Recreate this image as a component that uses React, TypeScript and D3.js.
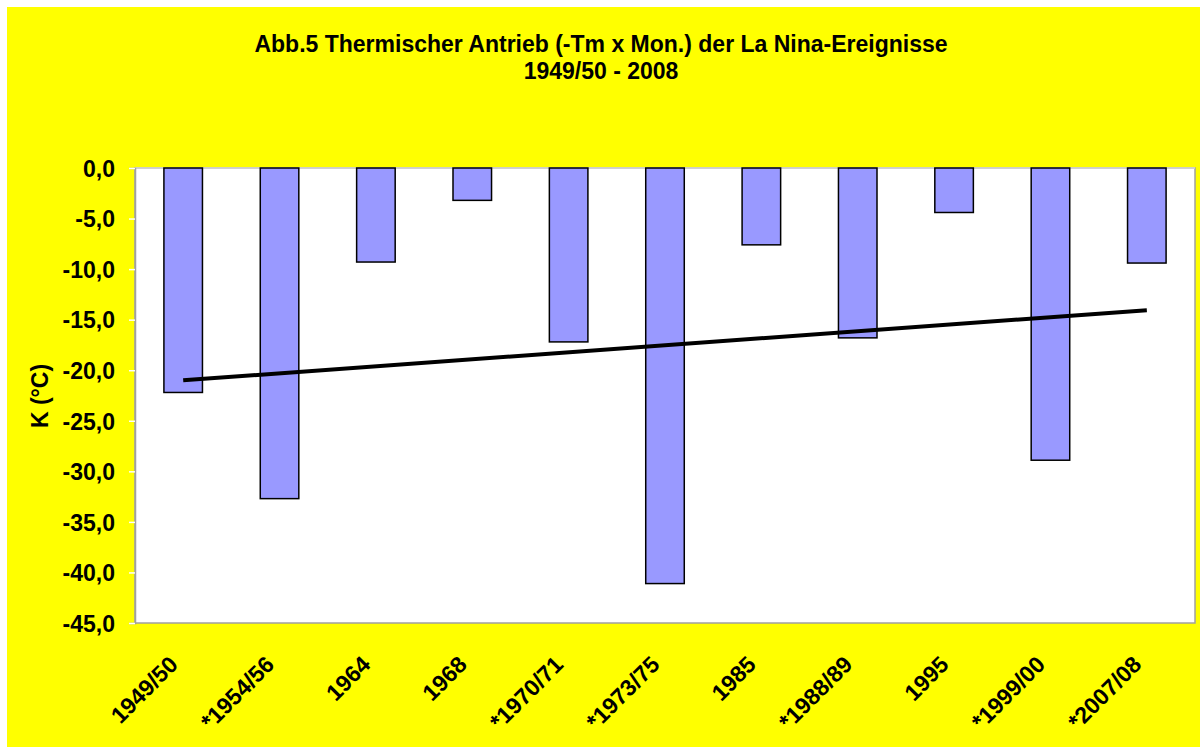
import React, { useRef, useEffect } from "react";
import * as d3 from "d3";

const categories = [
  "1949/50",
  "*1954/56",
  "1964",
  "1968",
  "*1970/71",
  "*1973/75",
  "1985",
  "*1988/89",
  "1995",
  "*1999/00",
  "*2007/08",
];
const values = [-22.2, -32.7, -9.3, -3.2, -17.2, -41.1, -7.6, -16.8, -4.4, -28.9, -9.4];
const yTicks = [0, -5, -10, -15, -20, -25, -30, -35, -40, -45];
const titleLines = ["Abb.5 Thermischer Antrieb (-Tm x Mon.) der La Nina-Ereignisse", "1949/50 - 2008"];
const yTitle = "K (°C)";

const App = () => {
  const svgRef = useRef<SVGSVGElement>(null);

  useEffect(() => {
    const W = 1200;
    const H = 747;
    const plot = { left: 135, top: 168, right: 1195, bottom: 623 };
    const font = "'Liberation Sans', Arial, sans-serif";
    const fs = "23px";

    const svg = d3.select(svgRef.current);
    svg.selectAll("*").remove();

    svg.append("rect").attr("width", W).attr("height", H).attr("fill", "#fff");
    svg.append("rect").attr("x", 7).attr("y", 7).attr("width", W - 7).attr("height", H - 7).attr("fill", "#ffff00");

    // title
    svg
      .append("g")
      .selectAll("text")
      .data(titleLines)
      .enter()
      .append("text")
      .attr("x", 601)
      .attr("y", (d, i) => 52 + i * 27)
      .attr("text-anchor", "middle")
      .style("font-family", font)
      .style("font-weight", "bold")
      .style("font-size", fs)
      .text((d) => d);

    const x = d3
      .scaleBand()
      .domain(categories)
      .range([plot.left, plot.right])
      .paddingInner(0.6)
      .paddingOuter(0.3);

    const y = d3.scaleLinear().domain([-45, 0]).range([plot.bottom, plot.top]);

    // plot area
    svg
      .append("rect")
      .attr("x", plot.left)
      .attr("y", plot.top)
      .attr("width", plot.right - plot.left)
      .attr("height", plot.bottom - plot.top)
      .attr("fill", "#fff")
      .attr("stroke", "#a0a0a0")
      .attr("stroke-width", 1.5);

    svg
      .append("line")
      .attr("x1", plot.left)
      .attr("x2", plot.right)
      .attr("y1", plot.top)
      .attr("y2", plot.top)
      .attr("stroke", "#d8d8d8")
      .attr("stroke-width", 1.5);

    // y axis
    const yAxis = svg
      .append("g")
      .attr("transform", `translate(${plot.left},0)`)
      .call(
        d3
          .axisLeft(y)
          .tickValues(yTicks)
          .tickSize(6)
          .tickPadding(14)
          .tickFormat((d) => d3.format(".1f")(d as number).replace(".", ",").replace("−", "-"))
      );
    yAxis.select(".domain").attr("stroke", "#a0a0a0").attr("stroke-width", 1.5);
    yAxis.selectAll(".tick line").attr("stroke", "#fff").attr("stroke-width", 1.5);
    yAxis
      .selectAll(".tick text")
      .attr("fill", "#000")
      .attr("dy", "0.36em")
      .style("font-family", font)
      .style("font-weight", "bold")
      .style("font-size", fs);

    svg
      .append("text")
      .attr("transform", `translate(48,396) rotate(-90)`)
      .attr("text-anchor", "middle")
      .style("font-family", font)
      .style("font-weight", "bold")
      .style("font-size", fs)
      .text(yTitle);

    // bars
    svg
      .append("g")
      .selectAll("rect")
      .data(values)
      .enter()
      .append("rect")
      .attr("x", (d, i) => x(categories[i])!)
      .attr("y", y(0))
      .attr("width", x.bandwidth())
      .attr("height", (d) => y(d) - y(0))
      .attr("fill", "#9999ff")
      .attr("stroke", "#000")
      .attr("stroke-width", 1.5);

    // linear trend
    const n = values.length;
    const meanX = (n - 1) / 2;
    const meanY = d3.mean(values)!;
    let sxy = 0;
    let sxx = 0;
    values.forEach((v, i) => {
      sxy += (i - meanX) * (v - meanY);
      sxx += (i - meanX) * (i - meanX);
    });
    const slope = sxy / sxx;
    const icpt = meanY - slope * meanX;
    const cx = (i: number) => x(categories[i])! + x.bandwidth() / 2;

    svg
      .append("line")
      .attr("x1", cx(0))
      .attr("y1", y(icpt))
      .attr("x2", cx(n - 1))
      .attr("y2", y(icpt + slope * (n - 1)))
      .attr("stroke", "#000")
      .attr("stroke-width", 4);

    // x labels
    svg
      .append("g")
      .selectAll("text")
      .data(categories)
      .enter()
      .append("text")
      .attr("transform", (d) => `translate(${x(d)! + x.bandwidth() / 2 - 4},${666}) rotate(-45)`)
      .attr("text-anchor", "end")
      .style("font-family", font)
      .style("font-weight", "bold")
      .style("font-size", fs)
      .text((d) => d);
  }, []);

  return (
    <svg
      ref={svgRef}
      width={1200}
      height={747}
      style={{ position: "absolute", left: 0, top: 0, display: "block" }}
    ></svg>
  );
};

export default App;
